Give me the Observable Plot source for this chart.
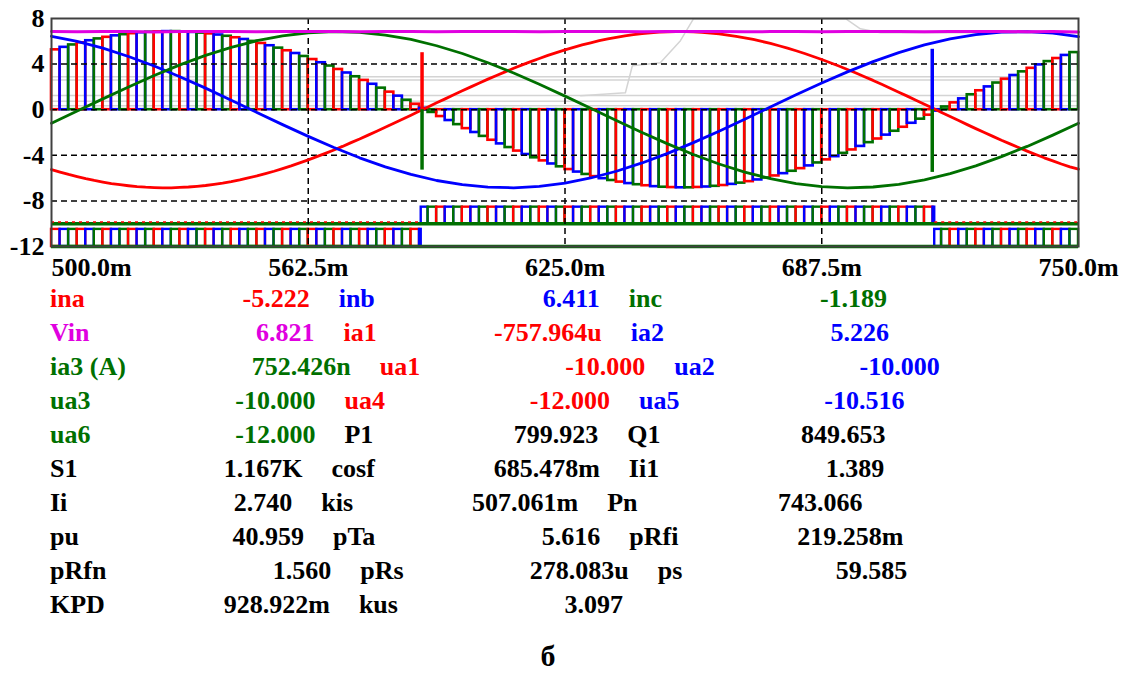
<!DOCTYPE html>
<html><head><meta charset="utf-8">
<script src="https://cdn.jsdelivr.net/npm/d3@7"></script>
<script src="https://cdn.jsdelivr.net/npm/@observablehq/plot@0.6"></script>
<style>
body{margin:0;background:#fff;width:1122px;height:674px;position:relative;overflow:hidden;font-family:"Liberation Serif","Times New Roman",serif;font-weight:bold}
#chart{position:absolute;left:0;top:0}
#table{position:absolute;left:50px;top:282px;font-size:26px;line-height:34px;white-space:nowrap}
.row{height:34px}
.lab{display:inline-block}
.val{display:inline-block;width:225px;text-align:right;margin-right:29px}
#caption{position:absolute;left:448px;width:200px;height:34px;text-align:center;top:639px;font-size:30px;line-height:34px}
</style></head>
<body>
<div id="chart"></div>
<div id="table"></div>
<div id="caption">б</div>
<script>
// ---- data ----
// ina sampled every 250/120 ms from 500m to 750m
const ina = [-5.25,-5.47,-5.68,-5.87,-6.05,-6.21,-6.35,-6.48,-6.58,-6.67,-6.75,-6.80,-6.83,-6.85,-6.85,-6.82,-6.78,-6.72,-6.65,-6.55,-6.44,-6.31,-6.16,-5.99,-5.81,-5.61,-5.40,-5.17,-4.93,-4.67,-4.40,-4.12,-3.83,-3.53,-3.22,-2.89,-2.57,-2.23,-1.89,-1.54,-1.19,-0.83,-0.48,-0.12,
0.24,0.60,0.95,1.31,1.66,2.00,2.34,2.68,3.00,3.32,3.63,3.93,4.22,4.49,4.76,5.01,5.25,5.47,5.68,5.87,6.05,6.21,6.35,6.48,6.58,6.67,6.75,6.80,6.83,6.85,6.85,6.82,6.78,6.72,6.65,6.55,6.44,6.31,6.16,5.99,5.81,5.61,5.40,5.17,4.93,4.67,4.40,4.12,3.83,3.53,3.22,2.89,2.57,2.23,1.89,1.54,1.19,0.83,0.48,0.12,
-0.24,-0.60,-0.95,-1.31,-1.66,-2.00,-2.34,-2.68,-3.00,-3.32,-3.63,-3.93,-4.22,-4.49,-4.76,-5.01,-5.22];
const inaStep = 250 / 120;
// inb, inc, Vin sampled every 6.25 ms
const inb = [6.44,5.99,5.40,4.67,3.83,2.89,1.89,0.83,-0.24,-1.31,-2.34,-3.32,-4.22,-5.01,-5.68,-6.21,-6.58,-6.80,-6.85,-6.72,-6.44,-5.99,-5.40,-4.67,-3.83,-2.89,-1.89,-0.83,0.24,1.31,2.34,3.32,4.22,5.01,5.68,6.21,6.58,6.80,6.85,6.72,6.41];
const inc = [-1.19,-0.12,0.95,2.00,3.00,3.93,4.76,5.47,6.05,6.48,6.75,6.85,6.78,6.55,6.16,5.61,4.93,4.12,3.22,2.23,1.19,0.12,-0.95,-2.00,-3.00,-3.93,-4.76,-5.47,-6.05,-6.48,-6.75,-6.85,-6.78,-6.55,-6.16,-5.61,-4.93,-4.12,-3.22,-2.23,-1.19];
const vin = [6.86,6.84,6.86,6.85,6.82,6.86,6.85,6.86,6.83,6.86,6.85,6.86,6.84,6.86,6.85,6.83,6.86,6.85,6.86,6.84,6.86,6.85,6.86,6.83,6.86,6.85,6.86,6.84,6.85,6.86,6.83,6.86,6.85,6.86,6.84,6.86,6.85,6.86,6.84,6.85,6.82];
const sampleStep = 6.25;
// ua trains: ua1..ua3 pulse between -10 and -8.55 in the middle interval, ua4..ua6 between -12 and -10.5 outside it
const trainSwitch = [590, 715];
const uaLevelsA = [-10, -8.55];
const uaLevelsB = [-12, -10.5];
// commutation spikes
const spikeT = [590.2, 590.2, 714.4, 714.4];
const spikeV = [5.0, -5.3, 5.3, -5.5];
const spikeS = ["red", "green", "blue", "green"];
// faint grey traces
const grayT = [628.8, 639.7, 641.4, 648.2, 653.1, 656.3, 693.3, 696.9, 701.8, 750];
const grayV = [1.23, 1.49, 3.86, 4.12, 6.05, 7.98, 7.98, 7.1, 6.75, 6.75];
const grayLevels = [2.9, 2.6, 1.25, 0.75, 0.35];
// ticks
const yTicks = [8, 4, 0, -4, -8, -12];
const yTickLabels = ["8", "4", "0", "-4", "-8", "-12"];
const xTicks = [500, 562.5, 625, 687.5, 750];
const xTickLabels = ["500.0m", "562.5m", "625.0m", "687.5m", "750.0m"];
// readout table
const tableLabels = [["ina","inb","inc"],["Vin","ia1","ia2"],["ia3 (A)","ua1","ua2"],["ua3","ua4","ua5"],["ua6","P1","Q1"],["S1","cosf","Ii1"],["Ii","kis","Pn"],["pu","pTa","pRfi"],["pRfn","pRs","ps"],["KPD","kus"]];
const tableValues = [["-5.222","6.411","-1.189"],["6.821","-757.964u","5.226"],["752.426n","-10.000","-10.000"],["-10.000","-12.000","-10.516"],["-12.000","799.923","849.653"],["1.167K","685.478m","1.389"],["2.740","507.061m","743.066"],["40.959","5.616","219.258m"],["1.560","278.083u","59.585"],["928.922m","3.097"]];
const labelColor = {ina:"red",inb:"blue",inc:"green",Vin:"magenta",ia1:"red",ia2:"blue","ia3 (A)":"green",ua1:"red",ua2:"blue",ua3:"green",ua4:"red",ua5:"blue",ua6:"green"};

// ---- styling ----
const C = {red:"#ff0000", blue:"#0000ff", green:"#007000", magenta:"#e000e0", black:"#000000", gray:"#d4d4d4"};
const pwmColors = [C.red, C.blue, C.green];

const tIna = ina.map((_, i) => 500 + i * inaStep);
const tS = inb.map((_, j) => 500 + j * sampleStep);

// chopped currents ia1+ia2+ia3 = -ina, one channel per PWM interval
const bars = d3.range(ina.length - 1).map(i => ({x1: tIna[i], x2: tIna[i + 1], y: -ina[i], c: pwmColors[i % 3]}));

const trainCells = [];
d3.range(ina.length - 1).forEach(i => {
  const a = tIna[i], b = tIna[i + 1];
  const cuts = [a, ...trainSwitch.filter(s => s > a && s < b), b];
  for (const [p, q] of d3.pairs(cuts)) {
    const m = (p + q) / 2;
    const lv = (m >= trainSwitch[0] && m < trainSwitch[1]) ? uaLevelsA : uaLevelsB;
    trainCells.push({x1: p, x2: q, y1: lv[0], y2: lv[1], c: pwmColors[i % 3]});
  }
});

const spikes = spikeT.map((t, i) => ({t, v: spikeV[i], c: C[spikeS[i]]}));
const grayPts = grayT.map((t, i) => ({t, v: grayV[i]}));
const redDash = [{y: -9.85, x1: 500, x2: trainSwitch[0]}, {y: -9.85, x1: trainSwitch[1], x2: 750}];

const chart = Plot.plot({
  width: 1122, height: 285,
  marginLeft: 51, marginRight: 44, marginTop: 18, marginBottom: 39,
  x: {domain: [500, 750], axis: null},
  y: {domain: [-12, 8], axis: null},
  color: {type: "identity"},
  style: {fontFamily: "Liberation Serif, Times New Roman, serif", background: "white", overflow: "visible"},
  marks: [
    Plot.ruleY(grayLevels, {stroke: C.gray, strokeWidth: 1.5}),
    Plot.line(grayPts, {x: "t", y: "v", stroke: C.gray, strokeWidth: 1.5}),
    Plot.rect(bars, {x1: "x1", x2: "x2", y1: 0, y2: "y", stroke: "c", fill: "none", strokeWidth: 2.6}),
    Plot.rect(trainCells, {x1: "x1", x2: "x2", y1: "y1", y2: "y2", stroke: "c", fill: "none", strokeWidth: 2.4}),
    Plot.ruleY([uaLevelsA[0], uaLevelsB[0]], {stroke: C.green, strokeWidth: 3.5}),
    Plot.ruleY(redDash, {y: "y", x1: "x1", x2: "x2", stroke: C.red, strokeWidth: 1.3, strokeDasharray: "3,4"}),
    Plot.ruleY([4, 0, -4, -8], {stroke: C.black, strokeWidth: 1.5, strokeDasharray: "6,4"}),
    Plot.ruleX([562.5, 625, 687.5], {stroke: C.black, strokeWidth: 1.5, strokeDasharray: "6,4"}),
    Plot.line(ina, {x: (d, i) => tIna[i], y: d => d, stroke: C.red, strokeWidth: 2.8}),
    Plot.line(inb, {x: (d, i) => tS[i], y: d => d, stroke: C.blue, strokeWidth: 2.8}),
    Plot.line(inc, {x: (d, i) => tS[i], y: d => d, stroke: C.green, strokeWidth: 2.8}),
    Plot.line(vin, {x: (d, i) => tS[i], y: d => d, stroke: C.magenta, strokeWidth: 3}),
    Plot.ruleX(spikes, {x: "t", y1: 0, y2: "v", stroke: "c", strokeWidth: 3.5}),
    Plot.frame({stroke: "#404040", strokeWidth: 2}),
    Plot.text(yTicks, {x: 500, y: d => d, text: (d, i) => yTickLabels[i], dx: -7, textAnchor: "end", fontSize: 26, fontWeight: "bold", fill: C.black}),
    Plot.text(xTicks.slice(0, 1), {x: d => d, y: -12, text: (d, i) => xTickLabels[i], dy: 21, textAnchor: "start", fontSize: 26, fontWeight: "bold", fill: C.black}),
    Plot.text(xTicks.slice(1), {x: d => d, y: -12, text: (d, i) => xTickLabels[i + 1], dy: 21, textAnchor: "middle", fontSize: 26, fontWeight: "bold", fill: C.black})
  ]
});
document.getElementById("chart").appendChild(chart);

// readout table
const tbl = document.getElementById("table");
tableLabels.forEach((row, r) => {
  const div = document.createElement("div");
  div.className = "row";
  row.forEach((lab, k) => {
    const col = C[labelColor[lab] || "black"];
    const l = document.createElement("span");
    l.className = "lab"; l.textContent = lab; l.style.color = col;
    const v = document.createElement("span");
    v.className = "val"; v.textContent = tableValues[r][k]; v.style.color = col;
    div.appendChild(l); div.appendChild(v);
  });
  tbl.appendChild(div);
});
</script>
</body></html>
